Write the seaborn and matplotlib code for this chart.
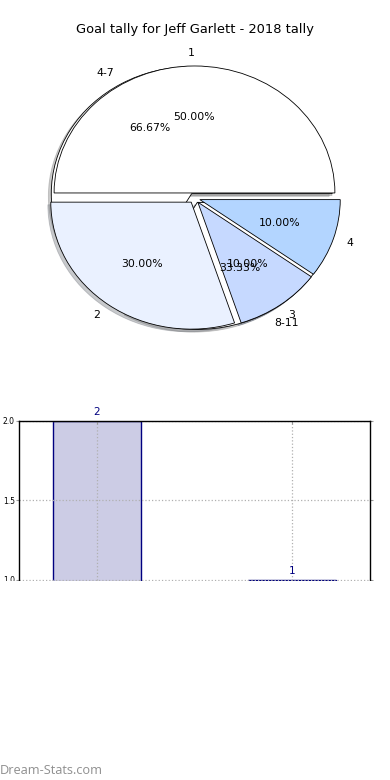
import matplotlib
matplotlib.use("Agg")
import matplotlib.pyplot as plt
import seaborn as sns
import pandas as pd
from matplotlib.patches import Rectangle

# ---- data ----
title = "Goal tally for Jeff Garlett - 2018 tally"
pie_labels = ["1", "2", "3", "4"]
pie_values = [5, 3, 1, 1]
pie_colors = ["#ffffff", "#eaf1ff", "#c6d9ff", "#b3d5ff"]
range_labels = ["4-7", "8-11"]
range_values = [2, 1]
bar_yticks = [1.0, 1.5, 2.0]
watermark = "Dream-Stats.com"

sns.set_style("white")
plt.rcParams["font.family"] = ["DejaVu Sans"]
plt.rcParams["text.color"] = "black"
plt.rcParams["ytick.labelcolor"] = "black"

fig = plt.figure(figsize=(3.9, 7.8), dpi=100)

# ---- pie axes ----
ax = fig.add_axes([0.0487, 0.5426, 0.9, 0.407])
ax.pie(range_values, labels=range_labels, autopct="%.2f%%", explode=[0.04, 0.04],
       startangle=0, shadow=dict(shade=0.5, alpha=0.4, ox=-0.015, oy=-0.015),
       wedgeprops=dict(facecolor="white", edgecolor="black", linewidth=0.6),
       textprops=dict(fontsize=7.8, color="black"))
ax.pie(pie_values, labels=pie_labels, autopct="%.2f%%", colors=pie_colors,
       explode=[0.04] * 4, startangle=0,
       shadow=dict(shade=0.5, alpha=0.4, ox=-0.015, oy=-0.015),
       wedgeprops=dict(edgecolor="black", linewidth=0.6),
       textprops=dict(fontsize=7.8, color="black"))
ax.set_aspect("auto")
ax.set_xlim(-1.25, 1.25)
ax.set_ylim(-1.25, 1.25)
ax.axis("off")

fig.text(0.5, 1 - 30 / 780, title, ha="center", va="center", fontsize=9.4,
         color="black")

# ---- bar axes ----
bx = fig.add_axes([0.0487, 0.2308, 0.9, 0.2295])
df = pd.DataFrame({"range": range_labels, "count": range_values})
sns.barplot(data=df, x="range", y="count", ax=bx, width=0.45, color="navy")
for p in bx.patches:
    p.set_facecolor((0, 0, 0.5, 0.2))
    p.set_edgecolor("navy")
    p.set_linewidth(1.0)
for i, v in enumerate(range_values):
    bx.annotate(str(v), (i, v), xytext=(0, 3), textcoords="offset points",
                ha="center", va="bottom", color="navy", fontsize=7.5)
bx.set_xlim(-0.4, 1.4)
bx.set_ylim(0.8742, 2.0)
bx.set_yticks(bar_yticks)
bx.set_yticklabels([f"{t:.1f}" for t in bar_yticks], fontsize=5.5)
bx.set_xticklabels([])
bx.set_xlabel("")
bx.set_ylabel("")
bx.grid(True, linestyle=":", color="#b0b0b0", linewidth=0.9)
bx.set_axisbelow("line")
for s in bx.spines.values():
    s.set_color("black")
    s.set_linewidth(1.0)
bx.tick_params(axis="y", left=True, right=True, direction="out", length=2,
               color="#999999", pad=1)
bx.tick_params(axis="x", bottom=False, top=True, direction="in", length=2,
               color="#999999")

# white cover below the bar chart
fig.add_artist(Rectangle((0, 0), 1, (780 - 581) / 780, transform=fig.transFigure,
                         facecolor="white", edgecolor="none", zorder=10))
fig.text(0.0, 1 - 770 / 780, watermark, ha="left", va="center", fontsize=9.2,
         color="#8f8f8f", family=["Open Sans", "DejaVu Sans"], zorder=11)

fig.savefig("out.png", dpi=100)
